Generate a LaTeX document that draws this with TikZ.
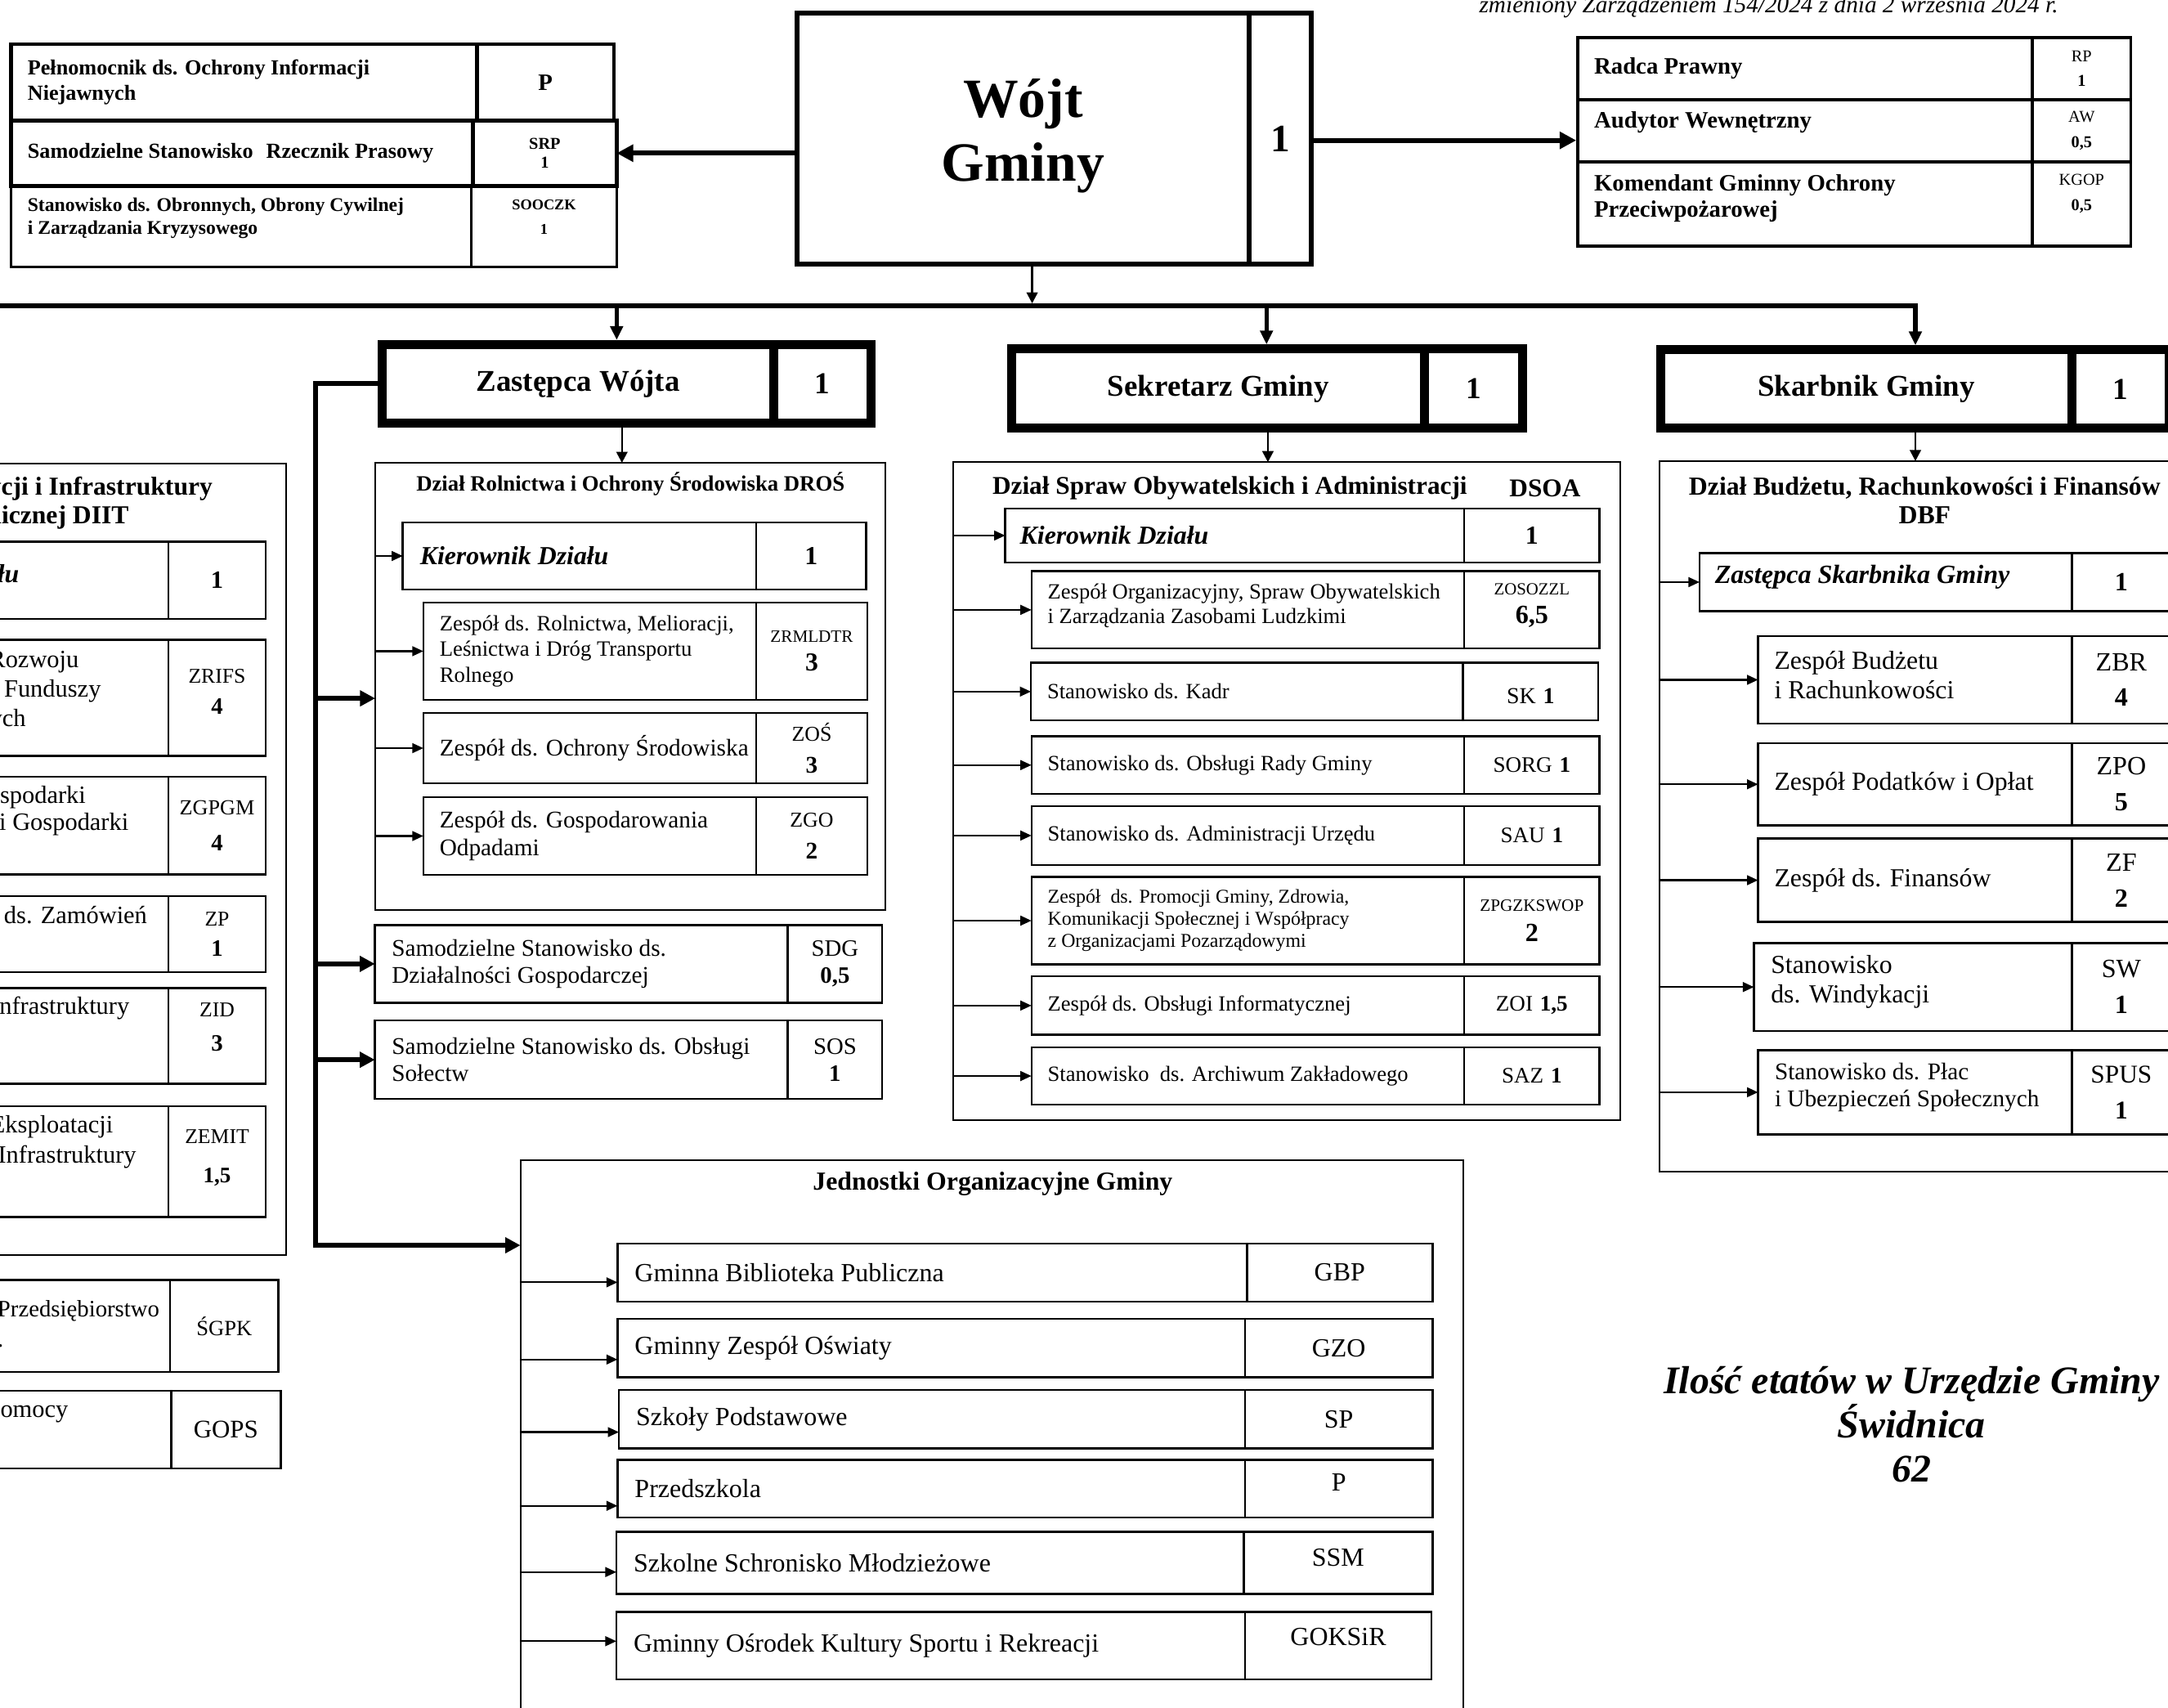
\documentclass[tikz,border=0pt]{standalone}
\usepackage{fontspec}
\setmainfont{Liberation Serif}
\usetikzlibrary{arrows.meta}
\newcommand\Fs[2]{\fontsize{#1}{#2}\selectfont}
\def\Rpad{12}
\def\Rtys{0pt}
\def\Rcys{0pt}
\newcommand\Row[9]{%
 \pgfmathsetmacro\RwA{#5-(#3)}%
 \pgfmathsetmacro\RwB{#6-(#5)}%
 \pgfmathsetmacro\Rh{#7-(#4)}%
 \pgfmathsetmacro\RtB{#6-(#5)-2}%
 \node[cellL,#2,minimum width=\RwA pt,minimum height=\Rh pt] (#1) at (#3,#4) {};%
 \node[cellL,#2,minimum width=\RwB pt,minimum height=\Rh pt] (#1c) at (#5,#4) {};%
 \node[txt,#2,anchor=west,align=left,yshift=\Rtys] (#1t) at ([xshift=\Rpad pt]#1.west) {#8};%
 \node[txt,#2,align=center,text width=\RtB pt,yshift=\Rcys] (#1k) at (#1c.center) {#9\par};%
}
\newcommand\Head[9]{%
 \pgfmathsetmacro\RwA{#4-(#2)}%
 \pgfmathsetmacro\RwB{#5-(#4)}%
 \pgfmathsetmacro\Rh{#6-(#3)}%
 \node[cellL,#7,minimum width=\RwA pt,minimum height=\Rh pt,align=center] (#1) at (#2,#3) {#8};%
 \node[cellL,#7,minimum width=\RwB pt,minimum height=\Rh pt,align=center] (#1c) at (#4,#3) {#9};%
}
\begin{document}
\begin{tikzpicture}[x=1pt,y=-1pt,
 tys/.code={\def\Rtys{#1}}, cys/.code={\def\Rcys{#1}},
 cellL/.style={draw, anchor=north west, outer sep=0pt, inner sep=0pt},
 txt/.style={inner sep=0pt, outer sep=0pt},
 dept/.style={draw, line width=1.2pt, anchor=north west, outer sep=0pt, inner sep=0pt},
 grpA/.style={line width=2.8pt, font=\Fs{15.5}{18}\bfseries},
 grpC/.style={line width=1.5pt, font=\Fs{14}{16.5}\bfseries},
 grpR/.style={line width=2.2pt, font=\Fs{17}{18.7}\bfseries},
 wojtS/.style={line width=3.6pt, font=\Fs{40}{46}\bfseries},
 headS/.style={line width=6.5pt, font=\Fs{21.8}{25}\bfseries},
 innB/.style={line width=1.5pt, font=\Fs{18.8}{21}\bfseries\itshape},
 innR/.style={line width=1.5pt, font=\Fs{15.8}{18.5}},
 innM/.style={line width=1.5pt, font=\Fs{17.3}{19.7}},
 innS/.style={line width=1.4pt, font=\Fs{15.7}{18.2}},
 innXS/.style={line width=1.4pt, font=\Fs{14.1}{16}},
 innL/.style={line width=1.5pt, font=\Fs{18.8}{21.3}},
 innJ/.style={line width=1.5pt, font=\Fs{18.9}{21}},
 innD/.style={line width=1.5pt, font=\Fs{18}{21}},
 arr/.style={line width=1.3pt, -{Triangle[length=8pt,width=7pt]}},
 darr/.style={line width=1.5pt, -{Triangle[length=8pt,width=8pt]}},
 bigarr/.style={line width=3.5pt, -{Triangle[length=11pt,width=11pt]}},
 bigarrW/.style={line width=3.5pt, -{Triangle[length=12pt,width=12pt]}},
 dropS/.style={line width=3.2pt, -{Triangle[length=10pt,width=9pt]}, shorten >=3.2pt},
]
\useasboundingbox (0,0) rectangle (1568,1235);

\node[txt, anchor=base east, font=\Fs{17.3}{20}\itshape] (hdr) at (1488.5,9) {zmieniony Zarządzeniem 154/2024 z dnia 2 września 2024 r.};

% ---------- top left group
\def\Rpad{12}
\Row{pel}{grpA}{8}{32}{345}{444}{87}{Pełnomocnik ds. Ochrony Informacji\\Niejawnych}{\Fs{17}{20}\bfseries P}
\Row{srp}{grpA}{8}{87}{342}{446}{134.5}{Samodzielne Stanowisko\hspace{0.6em}Rzecznik Prasowy}{\Fs{12}{14}\bfseries SRP\\1}
\Row{soo}{grpC,tys=6pt,cys=7pt}{8}{134.5}{341}{446}{193}{Stanowisko ds. Obronnych, Obrony Cywilnej\\i Zarządzania Kryzysowego}{\Fs{10.8}{17.6}\bfseries SOOCZK\\1}

% ---------- Wojt
\Head{wojt}{576.6}{9.7}{903.3}{948.4}{190.9}{wojtS}{\raisebox{2pt}[\height][\depth]{Wójt}\\\raisebox{2pt}[\height][\depth]{Gminy}}{\Fs{28}{32}1}

% ---------- right group
\def\Rpad{12}
\Row{rp}{grpR}{1141}{27}{1470}{1541}{72}{Radca Prawny}{\Fs{12}{17.6}\mdseries RP\\\bfseries 1}
\Row{aw}{grpR,tys=5.8pt}{1141}{72}{1470}{1541}{117}{Audytor Wewnętrzny}{\Fs{12}{18.8}\mdseries AW\\\bfseries 0,5}
\Row{kgop}{grpR,tys=4pt,cys=7.5pt}{1141}{117}{1470}{1541}{178}{Komendant Gminny Ochrony\\Przeciwpożarowej}{\Fs{12}{18}\mdseries KGOP\\\bfseries 0,5}

% ---------- heads
\Head{zast}{276.25}{249.05}{559.8}{629.75}{305.75}{headS}{Zastępca Wójta}{\Fs{22}{26}1}
\Head{sek}{731.95}{252.25}{1030.3}{1101.25}{309.75}{headS}{Sekretarz Gminy}{\Fs{22}{26}1}
\Head{skarb}{1201.05}{252.85}{1498.7}{1569}{309.75}{headS}{Skarbnik Gminy}{\Fs{22}{26}1}

% ---------- department frames
\node[dept, minimum width=368.9pt, minimum height=323.3pt] (dros) at (271.4,334.7) {};
\node[dept, minimum width=482.4pt, minimum height=475.8pt] (dsoa) at (689.6,334.2) {};
\node[dept, minimum width=379.5pt, minimum height=513.7pt] (dbf) at (1200.5,333.4) {};
\node[dept, minimum width=681.9pt, minimum height=420pt] (jedn) at (376.4,838.7) {};
\node[dept, minimum width=257pt, minimum height=572.6pt] (diit) at (-50,335) {};

\node[txt, font=\Fs{15.8}{18}\bfseries] (drost) at (456,349.8) {Dział Rolnictwa i Ochrony Środowiska DROŚ};
\node[txt, anchor=west, font=\Fs{18.5}{21}\bfseries] (dsoat) at (717.8,353) {Dział Spraw Obywatelskich i Administracji};
\node[txt, font=\Fs{18.5}{21}\bfseries] (dsoaa) at (1117.4,353) {DSOA};
\node[txt, align=center, font=\Fs{18.8}{20.5}\bfseries] (dbft) at (1392,362) {Dział Budżetu, Rachunkowości i Finansów\\DBF};
\node[txt, font=\Fs{18.8}{21}\bfseries] (jednt) at (718,856.3) {Jednostki Organizacyjne Gminy};
\node[txt, align=center, anchor=east, font=\Fs{18.7}{20.8}\bfseries] (diitt) at (153.7,363.6) {Dział Inwestycji i Infrastruktury\\Technicznej DIIT};

% ---------- DROS
\def\Rpad{12.5}
\Row{kd1}{innB}{291.3}{377.9}{547}{626.4}{426.2}{Kierownik Działu}{\Fs{18.8}{21}\bfseries\upshape 1}
\def\Rpad{11.8}
\Row{zrm}{innR}{306.2}{435.8}{547}{627.2}{506}{Zespół ds. Rolnictwa, Melioracji,\\Leśnictwa i Dróg Transportu\\Rolnego}{\Fs{12.5}{20.4}ZRMLDTR\\\Fs{18.7}{20.4}\bfseries 3}
\Row{zos}{innM}{306.2}{515.6}{547}{627.2}{566.4}{Zespół ds. Ochrony Środowiska}{\Fs{15.3}{23}ZOŚ\\\Fs{17.3}{23}\bfseries 3}
\Row{zgo}{innM}{306.2}{576.5}{547}{627.2}{632.6}{Zespół ds. Gospodarowania\\Odpadami}{\Fs{15.3}{23}ZGO\\\Fs{17.3}{23}\bfseries 2}
\def\Rpad{12.2}
\Row{sdg}{innM}{271.2}{669}{569.8}{638}{725}{Samodzielne Stanowisko ds.\\Działalności Gospodarczej}{\Fs{17}{19.3}SDG\\\bfseries 0,5}
\Row{sos}{innM}{271.2}{738}{569.8}{638}{794.7}{Samodzielne Stanowisko ds. Obsługi\\Sołectw}{\Fs{17}{19.7}SOS\\\bfseries 1}

% ---------- DSOA
\def\Rpad{10.7}
\Row{kd2}{innB}{727}{367.8}{1059}{1156.8}{406.7}{Kierownik Działu}{\Fs{18.8}{21}\bfseries\upshape 1}
\def\Rpad{11.8}
\Row{zoso}{innS,tys=3pt,cys=3.4pt}{746}{413}{1059}{1156.8}{469}{Zespół Organizacyjny, Spraw Obywatelskich\\i Zarządzania Zasobami Ludzkimi}{\Fs{12.3}{20.7}ZOSOZZL\\\Fs{19}{20.7}\bfseries 6,5}
\Row{sk}{innS,cys=-3pt}{745.6}{479.3}{1058}{1156}{520.9}{Stanowisko ds. Kadr}{\Fs{16.5}{20}SK \textbf{1}}
\Row{sorg}{innS}{746}{532.5}{1059}{1156.8}{574}{Stanowisko ds. Obsługi Rady Gminy}{\Fs{16}{20}SORG \textbf{1}}
\Row{sau}{innS}{746}{583}{1059}{1156.8}{625.4}{Stanowisko ds. Administracji Urzędu}{\Fs{16}{20}SAU \textbf{1}}
\Row{zpg}{innXS}{746}{634.2}{1059}{1156.8}{697.3}{Zespół\ \ ds. Promocji Gminy, Zdrowia,\\Komunikacji Społecznej i Współpracy\\z Organizacjami Pozarządowymi}{\Fs{12.5}{21.6}ZPGZKSWOP\\\Fs{19}{21.6}\bfseries 2}
\Row{zoi}{innS}{746}{706}{1059}{1156.8}{748.3}{Zespół ds. Obsługi Informatycznej}{\Fs{16}{20}ZOI \textbf{1,5}}
\Row{saz}{innS}{746}{757.4}{1059}{1156.8}{798.8}{Stanowisko\ \ ds. Archiwum Zakładowego}{\Fs{16}{20}SAZ \textbf{1}}

% ---------- DBF
\def\Rpad{11.1}
\Row{zsk}{innB,font=\Fs{19}{21}\bfseries\itshape,tys=3.5pt}{1229.2}{399.9}{1498.4}{1570}{442}{Zastępca Skarbnika Gminy}{\Fs{19}{21}\bfseries\upshape 1}
\def\Rpad{11.8}
\Row{zbr}{innL,tys=3.3pt}{1271.5}{460}{1498.4}{1570}{523.2}{Zespół Budżetu\\i Rachunkowości}{\Fs{19}{26}ZBR\\\bfseries 4}
\Row{zpo}{innL}{1271.5}{537.5}{1498.4}{1570}{596.8}{Zespół Podatków i Opłat}{\Fs{19}{26}ZPO\\\bfseries 5}
\Row{zf}{innL}{1271.5}{606.4}{1498.4}{1570}{666.6}{Zespół ds. Finansów}{\Fs{19}{26}ZF\\\bfseries 2}
\def\Rpad{12.3}
\Row{sw}{innL,tys=3.7pt}{1268.5}{681.9}{1498.4}{1570}{745.6}{Stanowisko\\ds. Windykacji}{\Fs{19}{26}SW\\\bfseries 1}
\def\Rpad{12.1}
\Row{spus}{innM,tys=3.5pt}{1271.5}{759.4}{1498.4}{1570}{820.3}{Stanowisko ds. Płac\\i Ubezpieczeń Społecznych}{\Fs{18.5}{26}SPUS\\\bfseries 1}

% ---------- Jednostki
\def\Rpad{12.5}
\Row{gbp}{innJ}{446.6}{899.2}{901.8}{1036.1}{941.3}{Gminna Biblioteka Publiczna}{GBP}
\Row{gzo}{innJ}{446.6}{953.7}{900.5}{1036}{996.1}{Gminny Zespół Oświaty}{GZO}
\Row{sp}{innJ}{447.6}{1005.2}{900.5}{1036}{1047.3}{Szkoły Podstawowe}{SP}
\Row{pz}{innJ,cys=4.5pt}{446.6}{1055.6}{900.5}{1036}{1097.4}{Przedszkola}{P}
\Row{ssm}{innJ,cys=4pt}{445.8}{1107.8}{899.6}{1036}{1152.5}{Szkolne Schronisko Młodzieżowe}{SSM}
\Row{gok}{innJ,cys=6pt}{445.8}{1165.5}{900.5}{1035.3}{1214.3}{Gminny Ośrodek Kultury Sportu i Rekreacji}{GOKSiR}

% ---------- DIIT (cut at left edge)
\def\Rpad{0}
\Row{dk}{innD}{-100}{391.6}{121.8}{192.2}{447.5}{}{\Fs{18}{21}\bfseries 1}
\Row{zrifs}{innD,cys=4.3pt}{-100}{462.5}{121.8}{192.2}{546.7}{}{\Fs{15.2}{22.6}ZRIFS\\\Fs{17}{22.6}\bfseries 4}
\Row{zgpgm}{innD}{-100}{561.7}{121.8}{192.2}{632.2}{}{\Fs{15.5}{25.7}ZGPGM\\\Fs{17}{25.7}\bfseries 4}
\Row{zp}{innD}{-100}{648}{121.8}{192.2}{703}{}{\Fs{15.2}{22}ZP\\\Fs{17}{22}\bfseries 1}
\Row{zid}{innD,cys=6.5pt}{-100}{714.5}{121.8}{192.2}{783.8}{}{\Fs{15.2}{24.6}ZID\\\Fs{17}{24.6}\bfseries 3}
\Row{zemit}{innD,cys=2.5pt}{-100}{800}{121.8}{192.2}{880}{}{\Fs{15.2}{28.3}ZEMIT\\\Fs{16}{28.3}\bfseries 1,5}
\node[txt, anchor=mid east, font=\Fs{18.8}{21}\bfseries\itshape] (dkt) at (13.8,419) {Kierownik Działu};
\node[txt, anchor=mid east, font=\Fs{18}{21}] (zrifs1) at (57,480.7) {Zespół ds. Rozwoju};
\node[txt, anchor=mid east, font=\Fs{18}{21}] (zrifs2) at (73,502) {Inwestycji i Funduszy};
\node[txt, anchor=mid east, font=\Fs{18}{21}] (zrifs3) at (18.7,522.8) {Strukturalnych};
\node[txt, anchor=mid east, font=\Fs{18}{21}] (zgpgm1) at (62,578.7) {Zespół ds. Gospodarki};
\node[txt, anchor=mid east, font=\Fs{18}{21}] (zgpgm2) at (93,598.4) {Przestrzennej i Gospodarki};
\node[txt, anchor=mid east, font=\Fs{18}{21}] (zp1) at (106.4,665.5) {Stanowisko ds. Zamówień};
\node[txt, anchor=mid east, font=\Fs{18}{21}] (zid1) at (93.6,731) {Zespół ds. Infrastruktury};
\node[txt, anchor=mid east, font=\Fs{18}{21}] (zemit1) at (81.8,817) {Zespół ds. Eksploatacji};
\node[txt, anchor=mid east, font=\Fs{18}{21}] (zemit2) at (98.5,838.9) {i Modernizacji Infrastruktury};

\Row{sgpk}{innD}{-100}{925.7}{123}{201.4}{992}{}{\Fs{15.7}{18}ŚGPK}
\Row{gops}{innD}{-100}{1005.7}{123.8}{203}{1061.9}{}{\Fs{18.3}{21}GOPS}
\node[txt, anchor=mid east, font=\Fs{17}{20}] (sgpk1) at (115.3,950) {Świdnickie Gminne Przedsiębiorstwo};
\node[txt, anchor=mid east, font=\Fs{17}{20}] (sgpk2) at (2.5,971.6) {Komunalne Sp. z o.o.};
\node[txt, anchor=mid east, font=\Fs{18}{21}] (gops1) at (49.3,1022.9) {Gminny Ośrodek Pomocy};

% ---------- summary
\node[txt, align=center, font=\Fs{28.3}{32}\bfseries\itshape] (ilosc) at (1382.5,1030) {Ilość etatów w Urzędzie Gminy\\Świdnica\\62};

% ---------- connectors
\draw[bigarrW] (wojt.west |- srpc.east) -- (srpc.east);
\coordinate (awin) at (1140,101.5);
\draw[bigarrW] (wojtc.east |- awin) -- (awin);

\coordinate (bw) at (746.5,219.4);
\draw[darr] (wojt.south -| bw) -- (bw);

\coordinate (bL) at (-5,221);
\coordinate (bR) at (1385.3,221);
\coordinate (b1) at (446,221);
\coordinate (b2) at (916,221);
\draw[dropS] (bL) -- (bR) -- (bR |- skarb.north);
\draw[dropS] (b1) -- (b1 |- zast.north);
\draw[dropS] (b2) -- (b2 |- sek.north);

\coordinate (zd) at (449.8,334.7);
\draw[darr] (zast.south -| zd) -- (zd);
\coordinate (sd) at (917,334.2);
\draw[darr] (sek.south -| sd) -- (sd);
\coordinate (kd) at (1385.3,333.4);
\draw[darr] (skarb.south -| kd) -- (kd);

\coordinate (lbb) at (228,900.5);
\draw[bigarr] (zast.west) -- (zast.west -| lbb) -- (lbb) -- (jedn.west |- lbb);
\coordinate (lb1) at (228,505);
\draw[bigarr] (lb1) -- (dros.west |- lb1);
\draw[bigarr] (lbb |- sdg.west) -- (sdg.west);
\draw[bigarr] (lbb |- sos.west) -- (sos.west);

\foreach \n in {kd1,zrm,zos,zgo} \draw[arr] (dros.west |- \n.west) -- (\n.west);
\foreach \n in {kd2,zoso,sk,sorg,sau,zpg,zoi,saz} \draw[arr] (dsoa.west |- \n.west) -- (\n.west);
\foreach \n in {zsk,zbr,zpo,zf,sw,spus} \draw[arr] (dbf.west |- \n.west) -- (\n.west);
\foreach \n/\yy in {gbp/927.3, gzo/983.1, sp/1035.6, pz/1088.9, ssm/1136.8, gok/1186.8}{
  \coordinate (\n-y) at (0,\yy);
  \draw[arr] (jedn.west |- \n-y) -- (\n.west |- \n-y);
}
\end{tikzpicture}
\end{document}
